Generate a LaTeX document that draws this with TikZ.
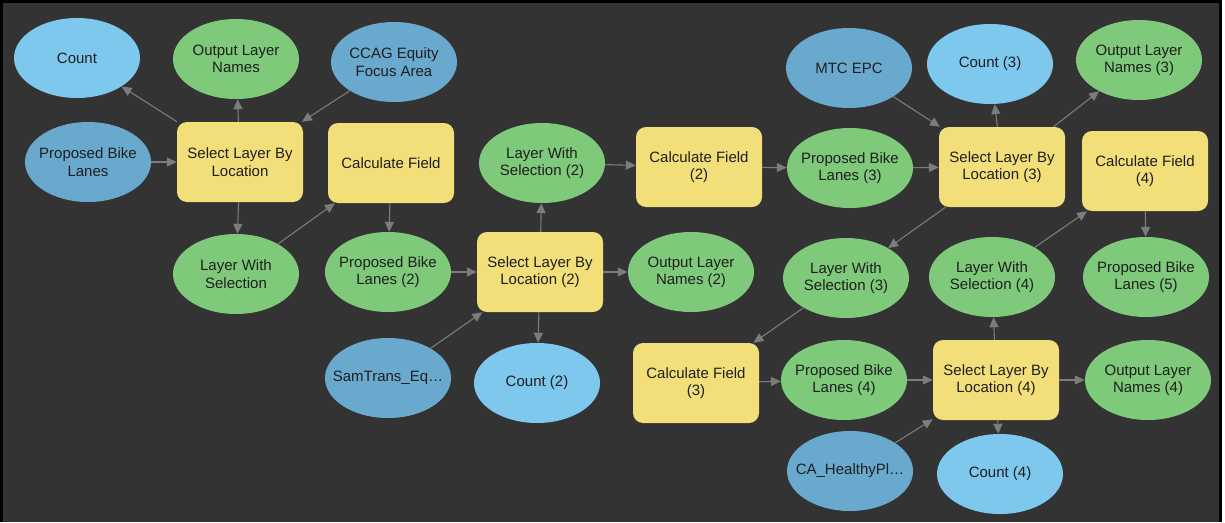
\documentclass[tikz,border=0pt]{standalone}
\usepackage{fontspec}
\setmainfont{Liberation Sans}
\usetikzlibrary{shapes.geometric,arrows.meta}
\definecolor{bgc}{HTML}{333333}
\definecolor{grn}{HTML}{7FC97B}
\definecolor{ylw}{HTML}{F3DF7A}
\definecolor{lblu}{HTML}{7EC8EE}
\definecolor{sblu}{HTML}{6AA9CE}
\definecolor{edg}{HTML}{7C7C7C}
\definecolor{txt}{HTML}{1E1E1E}
\tikzset{
  base/.style={minimum width=126pt, minimum height=80pt, text=txt, align=center,
    font=\fontsize{15}{17.3}\selectfont},
  ell/.style={base, ellipse, inner xsep=-30pt, inner ysep=-20pt},
  outnode/.style={ell, fill=grn},
  cntnode/.style={ell, fill=lblu},
  innode/.style={ell, fill=sblu},
  toolnode/.style={base, rectangle, rounded corners=10pt, fill=ylw, inner sep=2pt},
  conn/.style={draw=edg, line width=1.1pt, -{Triangle[length=10pt,width=9pt]}}
}
\begin{document}
\begin{tikzpicture}[x=1pt, y=-1pt]
\useasboundingbox (0,0) rectangle (1225,522);
\fill[white] (0,0) rectangle (1225,522);
\fill[black] (0,0) rectangle (1221.5,522);
\fill[bgc] (3,3) rectangle (1219,522);

% nodes
\node[cntnode]  (cnt1)  at (77,58)   {Count};
\node[outnode]  (oln1)  at (236,59)  {Output Layer\\Names};
\node[innode]   (ccag)  at (394,62)  {CCAG Equity\\Focus Area};
\node[innode]   (pbl1)  at (88,162)  {Proposed Bike\\Lanes};
\node[toolnode] (slbl1) at (240,162) {Select Layer By\\Location};
\node[toolnode] (cf1)   at (391,163) {Calculate Field};
\node[outnode]  (lws1)  at (236,274) {Layer With\\Selection};
\node[outnode]  (pbl2)  at (388,272) {Proposed Bike\\Lanes (2)};
\node[toolnode] (slbl2) at (540,272) {Select Layer By\\Location (2)};
\node[outnode]  (lws2)  at (542,163) {Layer With\\Selection (2)};
\node[outnode]  (oln2)  at (691,272) {Output Layer\\Names (2)};
\node[innode]   (sam)   at (388,378) {SamTrans\_Eq…};
\node[cntnode]  (cnt2)  at (537,383) {Count (2)};
\node[toolnode] (cf2)   at (699,167) {Calculate Field\\(2)};
\node[outnode]  (pbl3)  at (850,168) {Proposed Bike\\Lanes (3)};
\node[innode]   (mtc)   at (849,68)  {MTC EPC};
\node[toolnode] (slbl3) at (1002,167) {Select Layer By\\Location (3)};
\node[cntnode]  (cnt3)  at (990,64)  {Count (3)};
\node[outnode]  (oln3)  at (1139,60) {Output Layer\\Names (3)};
\node[toolnode] (cf4)   at (1145,171) {Calculate Field\\(4)};
\node[outnode]  (lws3)  at (846,278) {Layer With\\Selection (3)};
\node[outnode]  (lws4)  at (992,277) {Layer With\\Selection (4)};
\node[outnode]  (pbl5)  at (1146,277) {Proposed Bike\\Lanes (5)};
\node[toolnode] (cf3)   at (696,383) {Calculate Field\\(3)};
\node[outnode]  (pbl4)  at (844,380) {Proposed Bike\\Lanes (4)};
\node[toolnode] (slbl4) at (996,380) {Select Layer By\\Location (4)};
\node[outnode]  (oln4)  at (1148,380) {Output Layer\\Names (4)};
\node[innode]   (ca)    at (850,471) {CA\_HealthyPl…};
\node[cntnode]  (cnt4)  at (1000,474) {Count (4)};

% connectors
\draw[conn] (slbl1) -- (cnt1);
\draw[conn] (slbl1) -- (oln1);
\draw[conn] (ccag) -- (slbl1);
\draw[conn] (pbl1) -- (slbl1);
\draw[conn] (slbl1) -- (lws1);
\draw[conn] (lws1) -- (cf1);
\draw[conn] (cf1) -- (pbl2);
\draw[conn] (pbl2) -- (slbl2);
\draw[conn] (sam) -- (slbl2);
\draw[conn] (slbl2) -- (cnt2);
\draw[conn] (slbl2) -- (oln2);
\draw[conn] (slbl2) -- (lws2);
\draw[conn] (lws2) -- (cf2);
\draw[conn] (cf2) -- (pbl3);
\draw[conn] (pbl3) -- (slbl3);
\draw[conn] (mtc) -- (slbl3);
\draw[conn] (slbl3) -- (cnt3);
\draw[conn] (slbl3) -- (oln3);
\draw[conn] (slbl3) -- (lws3);
\draw[conn] (lws3) -- (cf3);
\draw[conn] (cf3) -- (pbl4);
\draw[conn] (pbl4) -- (slbl4);
\draw[conn] (ca) -- (slbl4);
\draw[conn] (slbl4) -- (oln4);
\draw[conn] (slbl4) -- (cnt4);
\draw[conn] (slbl4) -- (lws4);
\draw[conn] (lws4) -- (cf4);
\draw[conn] (cf4) -- (pbl5);
\end{tikzpicture}
\end{document}
